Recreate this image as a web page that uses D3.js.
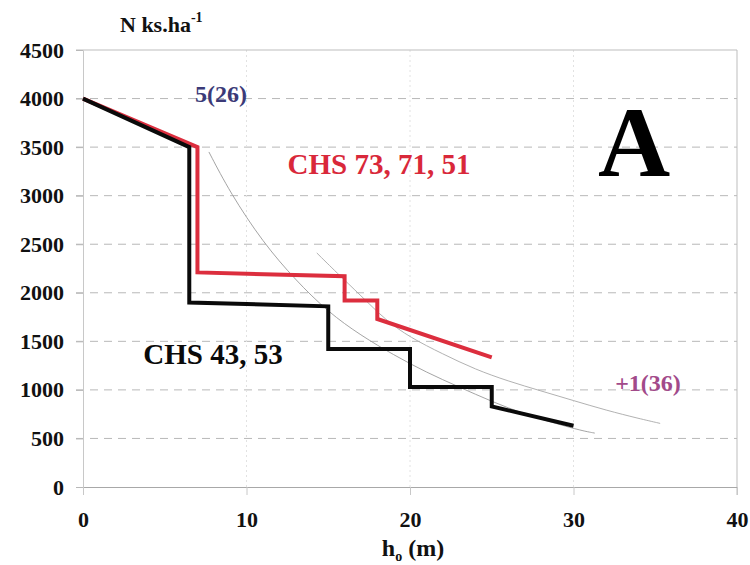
<!DOCTYPE html>
<html>
<head>
<meta charset="utf-8">
<script src="https://cdn.jsdelivr.net/npm/d3@7"></script>
<style>
  body { margin: 0; background: #fff; }
</style>
</head>
<body>
<div class="graph-center"></div>
<script>
// data
// black stand: CHS 43, 53
let blackH = [0, 6.5, 6.5, 15, 15, 20, 20, 25, 25, 30]
let blackN = [4000, 3500, 1900, 1860, 1420, 1420, 1030, 1030, 830, 630]

// red stand: CHS 73, 71, 51
let redH = [0, 7, 7, 16, 16, 18, 18, 25]
let redN = [4000, 3500, 2210, 2170, 1920, 1920, 1730, 1335]

// thin reference curves 5(26) and +1(36)
let curve1H = [7.7, 9, 11, 13, 15, 17, 19, 21, 23, 25, 27, 29, 30.5, 31.3]
let curve1N = [3450, 3030, 2520, 2130, 1800, 1560, 1360, 1180, 1030, 880, 750, 650, 580, 555]
let curve2H = [14.3, 15.5, 17, 18.5, 20, 22, 24, 26, 28, 30, 32, 34, 35.3]
let curve2N = [2410, 2210, 1970, 1720, 1540, 1370, 1210, 1090, 990, 890, 790, 705, 655]

let xTicks = [0, 10, 20, 30, 40]
let yTicks = [0, 500, 1000, 1500, 2000, 2500, 3000, 3500, 4000, 4500]

const serif = '"Liberation Serif", "Times New Roman", serif'

let svgWidth = 750
let svgHeight = 565

let svg = d3.select('.graph-center')
    .append('svg')
    .attr('width', svgWidth)
    .attr('height', svgHeight)
    .attr('font-family', serif)
    .attr('font-weight', 'bold')

let xScale = d3.scaleLinear().domain([0, 40]).range([83, 737])
let yScale = d3.scaleLinear().domain([0, 4500]).range([487, 50])

// horizontal grid (dashed)
svg.append('g')
    .selectAll('line')
    .data(yTicks.filter(d => d > 0 && d < 4500))
    .join('line')
    .attr('x1', 76).attr('x2', xScale(40))
    .attr('y1', d => yScale(d)).attr('y2', d => yScale(d))
    .attr('stroke', '#b8b8b8')
    .attr('stroke-width', 1)
    .attr('stroke-dasharray', '8,6')

// faint vertical grid
svg.append('g')
    .selectAll('line')
    .data([10, 20, 30])
    .join('line')
    .attr('x1', d => xScale(d)).attr('x2', d => xScale(d))
    .attr('y1', yScale(4500)).attr('y2', yScale(0))
    .attr('stroke', '#e2e2e2')
    .attr('stroke-width', 1)
    .attr('stroke-dasharray', '2,3')

// frame: top and right
svg.append('line')
    .attr('x1', 76).attr('x2', xScale(40))
    .attr('y1', yScale(4500)).attr('y2', yScale(4500))
    .attr('stroke', '#bdbdbd')
svg.append('line')
    .attr('x1', xScale(40)).attr('x2', xScale(40))
    .attr('y1', yScale(4500)).attr('y2', yScale(0) + 8)
    .attr('stroke', '#bdbdbd')

// axes
let xAxis = d3.axisBottom(xScale)
    .tickValues(xTicks)
    .tickSize(8)
    .tickPadding(16)
    .tickFormat(d3.format('d'))

let yAxis = d3.axisLeft(yScale)
    .tickValues(yTicks)
    .tickSize(7)
    .tickPadding(12)
    .tickFormat(d3.format('d'))

let gx = svg.append('g')
    .attr('transform', `translate(0,${yScale(0)})`)
    .call(xAxis)
    .attr('font-family', serif)
    .attr('font-size', 22)
let gy = svg.append('g')
    .attr('transform', `translate(${xScale(0)},0)`)
    .call(yAxis)
    .attr('font-family', serif)
    .attr('font-size', 22)

gx.select('.domain').attr('stroke', '#a8a8a8')
gy.select('.domain').attr('stroke', '#c8c8c8')
gx.selectAll('.tick line').attr('stroke', '#c8c8c8')
gy.selectAll('.tick line').attr('stroke', '#b8b8b8')
gx.selectAll('.tick text').attr('fill', '#111')
gy.selectAll('.tick text').attr('fill', '#111')

// lines
let valueLine = d3.line()
    .x(d => xScale(d[0]))
    .y(d => yScale(d[1]))

let smoothLine = d3.line()
    .x(d => xScale(d[0]))
    .y(d => yScale(d[1]))
    .curve(d3.curveBasis)

let zip = (a, b) => a.map((v, i) => [v, b[i]])

svg.append('path')
    .attr('d', smoothLine(zip(curve1H, curve1N)))
    .attr('fill', 'none')
    .attr('stroke', '#9a9a9a')
    .attr('stroke-width', 0.9)

svg.append('path')
    .attr('d', smoothLine(zip(curve2H, curve2N)))
    .attr('fill', 'none')
    .attr('stroke', '#a8a8a8')
    .attr('stroke-width', 0.9)

svg.append('path')
    .attr('d', valueLine(zip(redH, redN)))
    .attr('fill', 'none')
    .attr('stroke', '#dc2e3e')
    .attr('stroke-width', 4)

svg.append('path')
    .attr('d', valueLine(zip(blackH, blackN)))
    .attr('fill', 'none')
    .attr('stroke', '#0a0a0a')
    .attr('stroke-width', 4)

// labels
let yLabel = svg.append('text')
    .attr('x', 120).attr('y', 32)
    .attr('font-size', 22)
    .attr('fill', '#111')
yLabel.append('tspan').text('N ks.ha')
yLabel.append('tspan')
    .attr('dy', -10)
    .attr('font-size', 14)
    .text('-1')

let xLabel = svg.append('text')
    .attr('x', 413).attr('y', 556)
    .attr('text-anchor', 'middle')
    .attr('font-size', 24)
    .attr('fill', '#111')
xLabel.append('tspan').text('h')
xLabel.append('tspan').attr('font-size', 14).attr('dy', 5).text('o')
xLabel.append('tspan').attr('dy', -5).text(' (m)')

svg.append('text')
    .attr('x', 221).attr('y', 102)
    .attr('text-anchor', 'middle')
    .attr('font-size', 24)
    .attr('fill', '#3b3a78')
    .text('5(26)')

svg.append('text')
    .attr('x', 648).attr('y', 391)
    .attr('text-anchor', 'middle')
    .attr('font-size', 24)
    .attr('fill', '#a24a8a')
    .text('+1(36)')

svg.append('text')
    .attr('x', 379).attr('y', 174)
    .attr('text-anchor', 'middle')
    .attr('font-size', 29)
    .attr('fill', '#d9283a')
    .text('CHS 73, 71, 51')

svg.append('text')
    .attr('x', 213).attr('y', 364)
    .attr('text-anchor', 'middle')
    .attr('font-size', 29)
    .attr('fill', '#0a0a0a')
    .text('CHS 43, 53')

svg.append('text')
    .attr('x', 634).attr('y', 176)
    .attr('text-anchor', 'middle')
    .attr('font-size', 100)
    .attr('fill', '#000')
    .text('A')
</script>
</body>
</html>
